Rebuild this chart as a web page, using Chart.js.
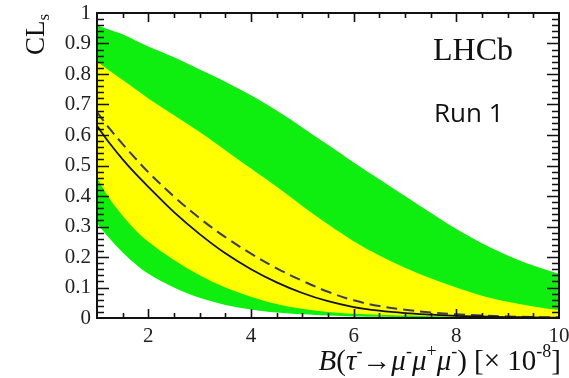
<!DOCTYPE html>
<html lang="en">

<head>
  <meta charset="UTF-8">
  <title>CLs scan</title>
  <script src="https://cdn.jsdelivr.net/npm/chart.js"></script>
  <style>
    body { margin: 0; background: #fff; }
    canvas { display: block; }
  </style>
</head>

<body>
  <canvas id="grafico" width="569" height="378"></canvas>

  <script>
    // branching fraction points (x 10^-8)
    var br = [1, 1.25, 1.5, 1.75, 2, 2.5, 3, 3.5, 4, 4.5, 5, 5.5, 6, 6.5, 7, 7.5, 8, 8.5, 9, 9.5, 10];

    // observed and expected CLs
    var cls_obs = [0.63, 0.572, 0.52, 0.473, 0.43, 0.347, 0.275, 0.212, 0.16, 0.117, 0.082, 0.055, 0.036, 0.024, 0.016, 0.011, 0.007, 0.005, 0.003, 0.002, 0.001];
    var cls_exp = [0.675, 0.62, 0.57, 0.523, 0.478, 0.398, 0.327, 0.265, 0.211, 0.163, 0.122, 0.086, 0.058, 0.039, 0.027, 0.018, 0.012, 0.008, 0.005, 0.003, 0.002];

    // 1 sigma band (yellow)
    var sig1_up = [0.84, 0.81, 0.78, 0.75, 0.72, 0.665, 0.61, 0.55, 0.49, 0.43, 0.367, 0.307, 0.252, 0.205, 0.165, 0.13, 0.10, 0.073, 0.053, 0.038, 0.026];
    var sig1_dn = [0.46, 0.39, 0.335, 0.288, 0.25, 0.19, 0.14, 0.10, 0.07, 0.046, 0.03, 0.02, 0.014, 0.011, 0.008, 0.006, 0.005, 0.004, 0.003, 0.002, 0.002];

    // 2 sigma band (green)
    var sig2_up = [0.96, 0.945, 0.93, 0.91, 0.89, 0.855, 0.815, 0.775, 0.73, 0.68, 0.625, 0.568, 0.51, 0.455, 0.40, 0.345, 0.292, 0.245, 0.205, 0.172, 0.145];
    var sig2_dn = [0.31, 0.26, 0.215, 0.177, 0.145, 0.10, 0.066, 0.043, 0.028, 0.018, 0.012, 0.008, 0.005, 0.004, 0.003, 0.002, 0.001, 0.001, 0, 0, 0];

    var ticks_x = [2, 4, 6, 8, 10];
    var ticks_y = [0, 0.1, 0.2, 0.3, 0.4, 0.5, 0.6, 0.7, 0.8, 0.9, 1];

    var serif = '"Liberation Serif", "Times New Roman", serif';

    function pontos(valores) {
      return br.map(function (x, i) { return { x: x, y: valores[i] }; });
    }

    function curva(label, valores, extra) {
      var ds = {
        label: label,
        data: pontos(valores),
        pointRadius: 0,
        borderWidth: 0,
        tension: 0.35,
        fill: false
      };
      return Object.assign(ds, extra || {});
    }

    // frame, inward ticks on all four sides and the text labels
    const moldura = {
      id: 'moldura',
      afterDraw(chart) {
        const ctx = chart.ctx;
        const a = chart.chartArea;
        const sx = chart.scales.x;
        const sy = chart.scales.y;
        ctx.save();
        ctx.strokeStyle = '#111';
        ctx.lineWidth = 2;
        ctx.strokeRect(a.left, a.top, a.right - a.left, a.bottom - a.top);

        ctx.lineWidth = 1.6;
        ctx.beginPath();
        for (let v = 1.5; v < 10; v += 0.5) {
          const px = Math.round(sx.getPixelForValue(v)) + 0.5;
          const len = (v % 2 === 0) ? 9 : 5;
          ctx.moveTo(px, a.bottom); ctx.lineTo(px, a.bottom - len);
          ctx.moveTo(px, a.top); ctx.lineTo(px, a.top + len);
        }
        for (let k = 1; k < 50; k++) {
          const py = Math.round(sy.getPixelForValue(k * 0.02)) + 0.5;
          const len = (k % 5 === 0) ? 12 : 7;
          ctx.moveTo(a.left, py); ctx.lineTo(a.left + len, py);
          ctx.moveTo(a.right, py); ctx.lineTo(a.right - len, py);
        }
        ctx.stroke();

        // y title: CL_s
        ctx.fillStyle = '#111';
        ctx.save();
        ctx.translate(44, 55);
        ctx.rotate(-Math.PI / 2);
        ctx.font = '27px ' + serif;
        ctx.textBaseline = 'alphabetic';
        ctx.fillText('CL', 0, 0);
        const w = ctx.measureText('CL').width;
        ctx.font = '17px ' + serif;
        ctx.fillText('s', w, 5);
        ctx.restore();

        ctx.font = '32px ' + serif;
        ctx.fillText('LHCb', 433, 60);
        ctx.font = '26px "Open Sans", "Noto Sans", sans-serif';
        ctx.fillText('Run 1', 434, 122);

        // x title
        const partes = [
          ['B', 'i', 0], ['(', 'n', 0], ['τ', 'i', 0], ['-', 'n', 1], ['→', 'n', 0],
          ['μ', 'i', 0], ['-', 'n', 1], ['μ', 'i', 0], ['+', 'n', 1], ['μ', 'i', 0], ['-', 'n', 1],
          [') [× 10', 'n', 0], ['-8', 'n', 1], [']', 'n', 0]
        ];
        function fonte(p) {
          return (p[1] === 'i' ? 'italic ' : '') + (p[2] ? '18px ' : '29px ') + serif;
        }
        let total = 0;
        partes.forEach(function (p) { ctx.font = fonte(p); total += ctx.measureText(p[0]).width; });
        let x = 561 - total;
        partes.forEach(function (p) {
          ctx.font = fonte(p);
          ctx.fillText(p[0], x, p[2] ? 357 : 370);
          x += ctx.measureText(p[0]).width;
        });
        ctx.restore();
      }
    };

    const config = {
      type: 'line',
      data: {
        datasets: [
          curva('Observado', cls_obs, { borderColor: '#111', borderWidth: 1.8 }),
          curva('Esperado', cls_exp, { borderColor: '#3b3b58', borderWidth: 2, borderDash: [11, 6] }),
          curva('1 sigma', sig1_up, { backgroundColor: '#ffff00', fill: 3 }),
          curva('1 sigma baixo', sig1_dn),
          curva('2 sigma', sig2_up, { backgroundColor: '#0fef0f', fill: 5 }),
          curva('2 sigma baixo', sig2_dn)
        ]
      },
      options: {
        responsive: false,
        animation: false,
        layout: { padding: { top: 13, right: 10, left: 0, bottom: 0 } },
        plugins: {
          legend: { display: false },
          tooltip: { enabled: false },
          filler: { drawTime: 'beforeDatasetsDraw' }
        },
        scales: {
          x: {
            type: 'linear',
            min: 1,
            max: 10,
            grid: { display: false, drawTicks: false },
            border: { display: false },
            afterFit: function (s) { s.height = 60; s.paddingLeft = 0; s.paddingRight = 0; },
            afterBuildTicks: function (s) { s.ticks = ticks_x.map(function (v) { return { value: v }; }); },
            ticks: {
              padding: 8,
              color: '#222',
              font: { family: serif, size: 21, lineHeight: 1 },
              callback: function (v) { return String(v); }
            }
          },
          y: {
            min: 0,
            max: 1,
            grid: { display: false, drawTicks: false },
            border: { display: false },
            afterFit: function (s) { s.width = 97; s.paddingTop = 0; s.paddingBottom = 0; },
            afterBuildTicks: function (s) { s.ticks = ticks_y.map(function (v) { return { value: v }; }); },
            ticks: {
              padding: 6,
              color: '#222',
              font: { family: serif, size: 21, lineHeight: 1 },
              callback: function (v) { return String(+v.toFixed(1)); }
            }
          }
        }
      },
      plugins: [moldura]
    };

    let grafico = new Chart(document.getElementById('grafico'), config);
  </script>
</body>

</html>
